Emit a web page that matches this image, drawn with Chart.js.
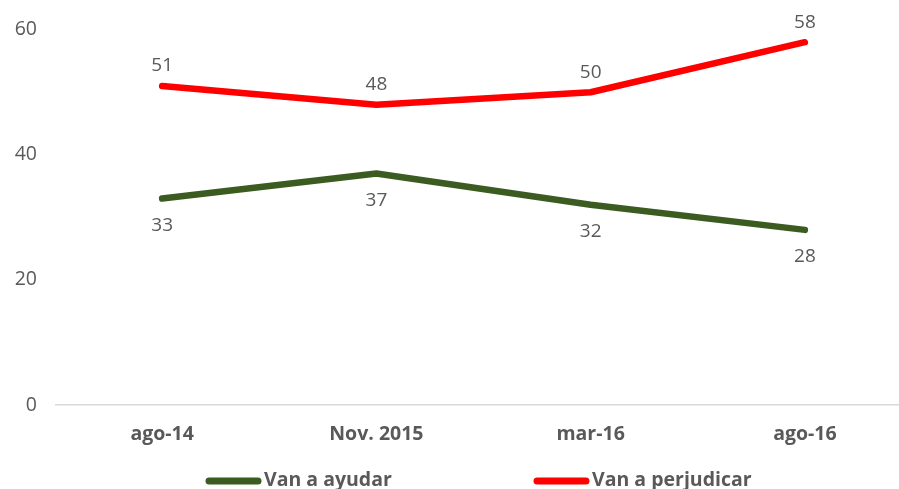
<!DOCTYPE html>
<html>
<head>
<meta charset="utf-8">
<script src="https://cdn.jsdelivr.net/npm/chart.js@4"></script>
<style>
  html, body { margin: 0; padding: 0; background: #fff; overflow: hidden; }
  #wrap { width: 912px; height: 489px; }
</style>
</head>
<body>
<div id="wrap"><canvas id="chart" width="912" height="489"></canvas></div>
<script>
// --- data ---
const categories = ["ago-14", "Nov. 2015", "mar-16", "ago-16"];
const ayudar = [33, 37, 32, 28];
const perjudicar = [51, 48, 50, 58];
const yTicks = [0, 20, 40, 60];

const GREEN = "#3b5b21";
const RED = "#ff0000";
const GRAY = "#595959";
const FONT = "'Open Sans', 'Noto Sans', sans-serif";

// etiquetas de valor encima / debajo de cada punto
const valueLabels = {
  id: "valueLabels",
  afterDatasetsDraw(chart) {
    const ctx = chart.ctx;
    ctx.save();
    ctx.font = "19px " + FONT;
    ctx.fillStyle = GRAY;
    ctx.textAlign = "center";
    ctx.textBaseline = "middle";
    chart.data.datasets.forEach((ds, i) => {
      const meta = chart.getDatasetMeta(i);
      meta.data.forEach((pt, j) => {
        const dy = ds.labelPos === "above" ? -20 : 27;
        ctx.fillText(ds.data[j], pt.x, pt.y + dy);
      });
    });
    ctx.restore();
  }
};

// leyenda con muestra de linea gruesa
const lineLegend = {
  id: "lineLegend",
  afterDraw(chart) {
    const ctx = chart.ctx;
    const items = [
      { x: 209, text: "Van a ayudar", color: GREEN },
      { x: 537, text: "Van a perjudicar", color: RED }
    ];
    const y = 481;
    ctx.save();
    ctx.font = "bold 19.5px " + FONT;
    ctx.textBaseline = "middle";
    ctx.textAlign = "left";
    items.forEach(it => {
      ctx.strokeStyle = it.color;
      ctx.lineWidth = 7;
      ctx.lineCap = "round";
      ctx.beginPath();
      ctx.moveTo(it.x, y);
      ctx.lineTo(it.x + 49, y);
      ctx.stroke();
      ctx.fillStyle = GRAY;
      ctx.fillText(it.text, it.x + 55, y - 1);
    });
    ctx.restore();
  }
};

const chart = new Chart(document.getElementById("chart"), {
  type: "line",
  data: {
    labels: categories,
    datasets: [
      {
        label: "Van a ayudar",
        data: ayudar,
        borderColor: GREEN,
        backgroundColor: GREEN,
        borderWidth: 6.5,
        borderCapStyle: "round",
        borderJoinStyle: "round",
        pointRadius: 0,
        tension: 0,
        labelPos: "below"
      },
      {
        label: "Van a perjudicar",
        data: perjudicar,
        borderColor: RED,
        backgroundColor: RED,
        borderWidth: 6.5,
        borderCapStyle: "round",
        borderJoinStyle: "round",
        pointRadius: 0,
        tension: 0,
        labelPos: "above"
      }
    ]
  },
  options: {
    responsive: false,
    animation: false,
    layout: { padding: { top: 28, left: 0, right: 0, bottom: 44 } },
    plugins: {
      legend: { display: false },
      title: { display: false },
      tooltip: { enabled: false }
    },
    scales: {
      x: {
        offset: true,
        afterFit(axis) { axis.height = 40; },
        grid: { display: false, drawTicks: false },
        border: { display: false },
        ticks: {
          color: GRAY,
          padding: 18,
          font: { family: FONT, size: 19.5, weight: "bold" }
        }
      },
      y: {
        min: 0,
        max: 60,
        afterFit(axis) { axis.width = 55; },
        afterBuildTicks(axis) {
          axis.ticks = yTicks.map(v => ({ value: v }));
        },
        grid: {
          drawTicks: false,
          color: c => (c.tick && c.tick.value === 0 ? "#d9d9d9" : "rgba(0,0,0,0)"),
          lineWidth: 1.5
        },
        border: { display: false },
        ticks: {
          color: GRAY,
          padding: 18,
          font: { family: FONT, size: 19.5 }
        }
      }
    }
  },
  plugins: [valueLabels, lineLegend]
});
</script>
</body>
</html>
